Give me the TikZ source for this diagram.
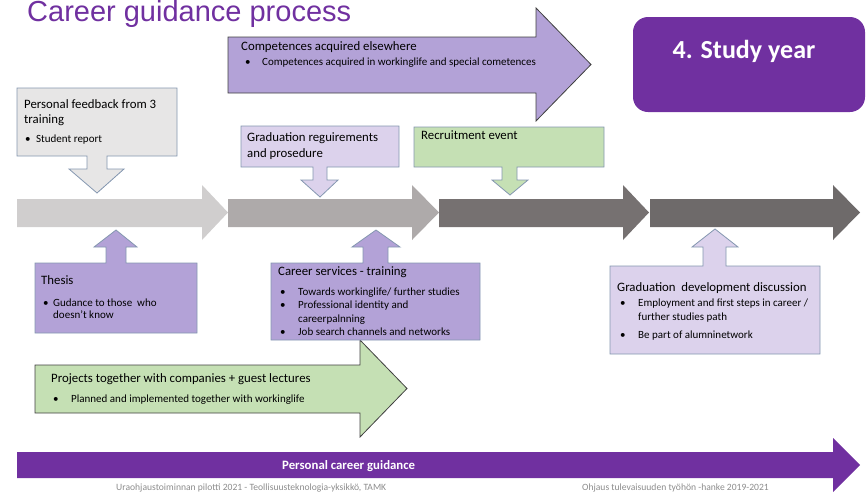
\documentclass[tikz,border=0pt]{standalone}
\usepackage{fontspec}
\setmainfont{Carlito}
\newfontfamily\titlefont{Liberation Sans}
\usetikzlibrary{calc}

\definecolor{titlepurple}{HTML}{7030A0}
\definecolor{darkpurple}{HTML}{7030A0}
\definecolor{midpurple}{HTML}{B3A2D7}
\definecolor{lightpurple}{HTML}{DCD2EC}
\definecolor{lightgreen}{HTML}{C5E0B4}
\definecolor{boxgray}{HTML}{E7E6E6}
\definecolor{stepone}{HTML}{D0CECE}
\definecolor{steptwo}{HTML}{AEAAAA}
\definecolor{stepthree}{HTML}{767171}
\definecolor{stepfour}{HTML}{6E6A6A}
\definecolor{calloutblue}{HTML}{8497B0}
\definecolor{arrowgray}{HTML}{404040}
\definecolor{footgray}{HTML}{8C8C8C}

\begin{document}
\begin{tikzpicture}[x=1pt, y=-1pt,
            callout/.style={draw=calloutblue, line width=0.8pt},
            bigarrow/.style={draw=arrowgray, line width=0.8pt},
            head/.style={anchor=base west, inner sep=0, font=\fontsize{12.8}{15}\selectfont},
            item/.style={anchor=base west, inner sep=0, font=\fontsize{11}{13}\selectfont},
            footer/.style={anchor=base west, inner sep=0, text=footgray, font=\fontsize{9.6}{11}\selectfont},
        ]
            \useasboundingbox (0, 0) rectangle (866, 493);
            %% title
            \node[anchor=base west, inner sep=0, text=titlepurple, font=\titlefont\fontsize{29}{32}\selectfont] at (27, 21) (title) {Career guidance process};
            %% timeline
            \fill[stepone] (17, 199) -- (202, 199) -- (202, 185) -- (228, 212.5) -- (202, 240) -- (202, 227) -- (17, 227) -- cycle;
            \fill[steptwo] (228, 199) -- (412, 199) -- (412, 185) -- (439, 212.5) -- (412, 240) -- (412, 227) -- (228, 227) -- cycle;
            \fill[stepthree] (439, 199) -- (623, 199) -- (623, 185) -- (649, 212.5) -- (623, 240) -- (623, 227) -- (439, 227) -- cycle;
            \fill[stepfour] (650, 199) -- (833, 199) -- (833, 185) -- (860, 212.5) -- (833, 240) -- (833, 227) -- (650, 227) -- cycle;
            %% big arrows
            \draw[bigarrow, fill=midpurple] (228, 37) -- (536, 37) -- (536, 8) -- (591, 64.5) -- (536, 121) -- (536, 93) -- (228, 93) -- cycle;
            \draw[bigarrow, fill=lightgreen] (35, 365) -- (360, 365) -- (360, 340) -- (407, 388.5) -- (360, 437) -- (360, 413) -- (35, 413) -- cycle;
            \fill[darkpurple] (17, 452) -- (833, 452) -- (833, 438) -- (860, 465) -- (833, 492) -- (833, 478) -- (17, 478) -- cycle;
            \fill[darkpurple, rounded corners=15pt] (633, 17) rectangle (865, 112);
            %% callouts down
            \draw[callout, fill=boxgray] (17, 88) -- (177, 88) -- (177, 156) -- (107, 156) -- (107, 169) -- (124, 169) -- (97, 193) -- (69, 169) -- (87, 169) -- (87, 156) -- (17, 156) -- cycle;
            \draw[callout, fill=lightpurple] (241, 126) -- (399, 126) -- (399, 167) -- (327, 167) -- (327, 180) -- (338, 180) -- (320, 197) -- (301, 180) -- (313, 180) -- (313, 167) -- (241, 167) -- cycle;
            \draw[callout, fill=lightgreen] (414, 127) -- (604, 127) -- (604, 167) -- (517, 167) -- (517, 180) -- (528, 180) -- (510, 195) -- (492, 180) -- (502, 180) -- (502, 167) -- (414, 167) -- cycle;
            %% callouts up
            \draw[callout, fill=midpurple] (35, 333) -- (35, 263) -- (106, 263) -- (106, 247) -- (94, 247) -- (116, 230) -- (137, 247) -- (126, 247) -- (126, 263) -- (197, 263) -- (197, 333) -- cycle;
            \draw[callout, fill=midpurple] (271, 340) -- (271, 263) -- (363, 263) -- (363, 247) -- (352, 247) -- (376, 230) -- (400, 247) -- (388, 247) -- (388, 263) -- (480, 263) -- (480, 340) -- cycle;
            \draw[callout, fill=lightpurple] (610, 354) -- (610, 266) -- (703, 266) -- (703, 247) -- (692, 247) -- (715, 229) -- (738, 247) -- (726, 247) -- (726, 266) -- (820, 266) -- (820, 354) -- cycle;
            %% texts
            \node[head] at (241, 50) (comp-head) {Competences acquired elsewhere};
            \node[item] at (245, 65) (comp-item) {\makebox[17pt][l]{\textbullet}Competences acquired in workinglife and special cometences};
            \node[anchor=base, inner sep=0, text=white, font=\bfseries\fontsize{26}{29}\selectfont] at (744, 58) (year) {4. Study year};
            \node[head] at (24, 108) (feedback-head) {Personal feedback from 3};
            \node[head] at (24, 123) (feedback-head2) {training};
            \node[item] at (25, 142) (feedback-item) {\makebox[11pt][l]{\textbullet}Student report};
            \node[head] at (247, 141.5) (grad-head) {Graduation reguirements};
            \node[head] at (247, 157) (grad-head2) {and prosedure};
            \node[head] at (421, 139) (recruit-head) {Recruitment event};
            \node[head] at (41, 284.5) (thesis-head) {Thesis};
            \node[item] at (43, 306) (thesis-item) {\makebox[10pt][l]{\textbullet}Gudance to those\ \ who};
            \node[item] at (53, 318.5) (thesis-item2) {doesn't know};
            \node[head] at (278, 275.5) (career-head) {Career services - training};
            \node[item] at (280, 295.5) (career-item) {\makebox[18pt][l]{\textbullet}Towards workinglife/ further studies};
            \node[item] at (280, 308) (career-item2) {\makebox[18pt][l]{\textbullet}Professional identity and};
            \node[item] at (298, 322) (career-item3) {careerpalnning};
            \node[item] at (280, 335.5) (career-item4) {\makebox[18pt][l]{\textbullet}Job search channels and networks};
            \node[head] at (51, 382.5) (projects-head) {Projects together with companies + guest lectures};
            \node[item] at (53, 402.5) (projects-item) {\makebox[18pt][l]{\textbullet}Planned and implemented together with workinglife};
            \node[head] at (617, 291) (dev-head) {Graduation\ \ development discussion};
            \node[item] at (620, 306) (dev-item) {\makebox[18pt][l]{\textbullet}Employment and first steps in career /};
            \node[item] at (638, 320.5) (dev-item2) {further studies path};
            \node[item] at (620, 338) (dev-item3) {\makebox[18pt][l]{\textbullet}Be part of alumninetwork};
            \node[anchor=base west, inner sep=0, text=white, font=\bfseries\fontsize{12.8}{15}\selectfont] at (282, 469) (guidance) {Personal career guidance};
            \node[footer] at (116, 490.5) (foot-left) {Uraohjaustoiminnan pilotti 2021 - Teollisuusteknologia-yksikkö, TAMK};
            \node[footer] at (582, 490.5) (foot-right) {Ohjaus tulevaisuuden työhön -hanke 2019-2021};

        \end{tikzpicture}
\end{document}
